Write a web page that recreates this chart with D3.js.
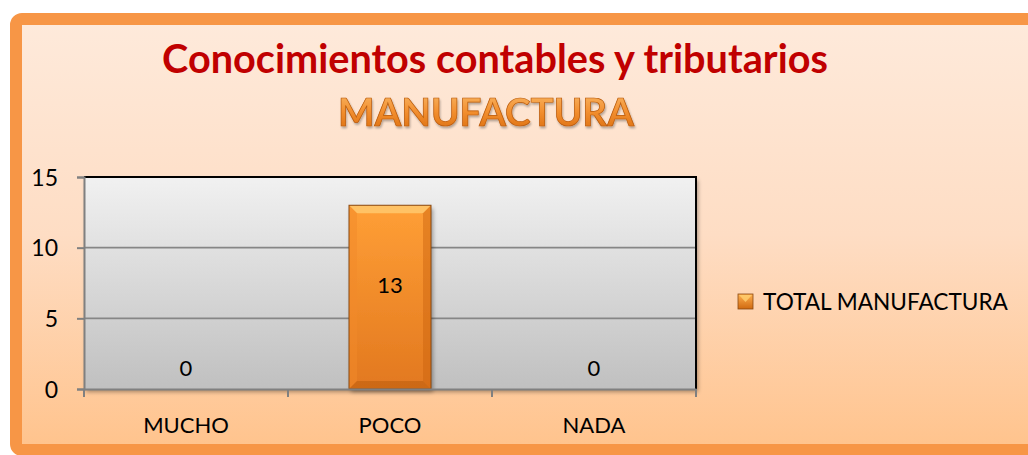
<!DOCTYPE html>
<html>
<head>
<meta charset="utf-8">
<script src="https://cdn.jsdelivr.net/npm/d3@7/dist/d3.min.js"></script>
<style>
html,body{margin:0;padding:0;background:#fff;}
svg{display:block;}
text{font-family:Lato,"Open Sans",sans-serif;}
</style>
</head>
<body>
<svg id="chart" width="1028" height="455"></svg>
<script>
const categories = ["MUCHO", "POCO", "NADA"];
const seriesName = "TOTAL MANUFACTURA";
const values = [0, 13, 0];
const yTicks = [0, 5, 10, 15];
const titleLine1 = "Conocimientos contables y tributarios";
const titleLine2 = "MANUFACTURA";

const svg = d3.select("#chart");
const defs = svg.append("defs");

function lin(id, stops, x2, y2) {
  const g = defs.append("linearGradient").attr("id", id)
    .attr("x1", 0).attr("y1", 0).attr("x2", x2).attr("y2", y2);
  stops.forEach(s => g.append("stop").attr("offset", s[0]).attr("stop-color", s[1]));
}
lin("bgGrad", [[0, "#FEEADB"], [0.5, "#FEDDC4"], [1, "#FFC38C"]], 0, 1);
lin("plotGrad", [[0, "#F1F1F1"], [1, "#C0C0C0"]], 0, 1);
lin("barGrad", [[0, "#FF9F36"], [1, "#E2781F"]], 0, 1);
lin("titleGrad", [[0, "#F9BE70"], [0.5, "#F39030"], [1, "#D96A0C"]], 0, 1);
lin("legGrad", [[0, "#FFB050"], [1, "#D06A10"]], 0, 1);

const f = defs.append("filter").attr("id", "shadow").attr("x", "-10%").attr("y", "-10%").attr("width", "130%").attr("height", "130%");
f.append("feGaussianBlur").attr("in", "SourceAlpha").attr("stdDeviation", 2);
f.append("feOffset").attr("dx", 2).attr("dy", 3).attr("result", "ob");
f.append("feComponentTransfer").append("feFuncA").attr("type", "linear").attr("slope", 0.35);
const fm = f.append("feMerge"); fm.append("feMergeNode"); fm.append("feMergeNode").attr("in", "SourceGraphic");

const tf = defs.append("filter").attr("id", "tshadow").attr("x", "-5%").attr("y", "-20%").attr("width", "110%").attr("height", "150%");
tf.append("feGaussianBlur").attr("in", "SourceAlpha").attr("stdDeviation", 1);
tf.append("feOffset").attr("dx", 1).attr("dy", 2).attr("result", "ob");
tf.append("feComponentTransfer").append("feFuncA").attr("type", "linear").attr("slope", 0.3);
const tm = tf.append("feMerge"); tm.append("feMergeNode"); tm.append("feMergeNode").attr("in", "SourceGraphic");

// frame
svg.append("rect").attr("x", 16).attr("y", 19).attr("width", 1030).attr("height", 431)
  .attr("rx", 6).attr("fill", "url(#bgGrad)").attr("stroke", "#F79646").attr("stroke-width", 12);

// title
function fit(sel, w) {
  const len = sel.node().getComputedTextLength();
  const fs = parseFloat(sel.attr("font-size"));
  sel.attr("font-size", fs * w / len);
}
const t1 = svg.append("text").attr("x", 495).attr("y", 73).attr("text-anchor", "middle")
  .attr("font-size", 34).attr("font-weight", "bold").attr("fill", "#C00000").text(titleLine1);
fit(t1, 666);
const t2 = svg.append("text").attr("x", 486).attr("y", 126).attr("text-anchor", "middle")
  .attr("font-size", 34).attr("font-weight", "bold").attr("fill", "url(#titleGrad)")
  .attr("stroke", "#B85808").attr("stroke-width", 0.7).attr("filter", "url(#tshadow)").text(titleLine2);
fit(t2, 296);

// scales
const m = {left: 84, right: 696, top: 177, bottom: 389};
const x = d3.scaleBand().domain(categories).range([m.left, m.right]).paddingInner(0).paddingOuter(0);
const y = d3.scaleLinear().domain([0, 15]).range([m.bottom, m.top]);

const plot = svg.append("g");
plot.append("rect").attr("x", m.left).attr("y", m.top).attr("width", m.right - m.left).attr("height", m.bottom - m.top)
  .attr("fill", "url(#plotGrad)").attr("filter", "url(#shadow)");

// gridlines
plot.selectAll("line.grid").data(yTicks.filter(d => d > 0 && d < 15)).join("line")
  .attr("x1", m.left).attr("x2", m.right).attr("y1", d => y(d)).attr("y2", d => y(d))
  .attr("stroke", "#868686").attr("stroke-width", 1.6);

// top & right border
plot.append("path").attr("d", `M${m.left},${m.top}H${m.right}V${m.bottom}`)
  .attr("fill", "none").attr("stroke", "#000").attr("stroke-width", 2);

// bars
const bw = 82;
const bars = plot.selectAll("g.bar").data(values.map((v, i) => ({c: categories[i], v}))).join("g");
bars.each(function(d) {
  if (d.v <= 0) return;
  const g = d3.select(this);
  const x0 = x(d.c) + x.bandwidth() / 2 - bw / 2, x1 = x0 + bw;
  const y0 = y(d.v), y1 = y(0);
  const b = 8;
  g.append("rect").attr("x", x0).attr("y", y0).attr("width", bw).attr("height", y1 - y0)
    .attr("fill", "url(#barGrad)").attr("filter", "url(#shadow)");
  g.append("path").attr("d", `M${x0},${y0}L${x1},${y0}L${x1 - b},${y0 + b}L${x0 + b},${y0 + b}Z`).attr("fill", "#FFD27A").attr("opacity", 0.7);
  g.append("path").attr("d", `M${x0},${y0}L${x0 + b},${y0 + b}L${x0 + b},${y1 - b}L${x0},${y1}Z`).attr("fill", "#F28A2A").attr("opacity", 0.5);
  g.append("path").attr("d", `M${x1},${y0}L${x1 - b},${y0 + b}L${x1 - b},${y1 - b}L${x1},${y1}Z`).attr("fill", "#C9620E").attr("opacity", 0.45);
  g.append("path").attr("d", `M${x0},${y1}L${x0 + b},${y1 - b}L${x1 - b},${y1 - b}L${x1},${y1}Z`).attr("fill", "#B85A0C").attr("opacity", 0.5);
  g.append("rect").attr("x", x0).attr("y", y0).attr("width", bw).attr("height", y1 - y0)
    .attr("fill", "none").attr("stroke", "#8A4A12").attr("stroke-width", 1);
});

// axes
const yAxis = d3.axisLeft(y).tickValues(yTicks).tickSize(7).tickPadding(8).tickFormat(d3.format("d"));
const ya = svg.append("g").attr("transform", `translate(${m.left},0)`).call(yAxis);
ya.select(".domain").attr("stroke", "#808080").attr("stroke-width", 2);
ya.selectAll(".tick line").attr("stroke", "#808080").attr("stroke-width", 2);
ya.selectAll(".tick text").attr("font-size", 23).attr("fill", "#000").attr("font-family", "Lato, sans-serif").attr("x", -26).attr("dy", "0.36em");

const xAxis = d3.axisBottom(x).tickSize(0).tickPadding(0);
const xa = svg.append("g").attr("transform", `translate(0,${m.bottom})`).call(xAxis);
xa.select(".domain").attr("stroke", "#808080").attr("stroke-width", 2);
xa.selectAll(".tick text").attr("font-size", 22).attr("fill", "#000").attr("font-family", "Lato, sans-serif").attr("y", 36).attr("dy", "0.36em");
const bounds = categories.map(c => x(c)).concat([m.right]);
xa.selectAll("line.bt").data(bounds).join("line").attr("class", "bt")
  .attr("x1", d => d).attr("x2", d => d).attr("y1", 0).attr("y2", 8)
  .attr("stroke", "#808080").attr("stroke-width", 2);

// data labels
svg.selectAll("text.dl").data(values.map((v, i) => ({c: categories[i], v}))).join("text").attr("class", "dl")
  .attr("x", d => x(d.c) + x.bandwidth() / 2)
  .attr("y", d => d.v > 0 ? (y(d.v) + y(0)) / 2 - 12 : y(0) - 21)
  .attr("dy", "0.36em").attr("text-anchor", "middle").attr("font-size", 22).attr("fill", "#000")
  .text(d => d.v);

// legend
const lg = svg.append("g").attr("transform", "translate(738,294)");
lg.append("rect").attr("width", 15).attr("height", 15).attr("fill", "url(#legGrad)").attr("stroke", "#8A4A12").attr("stroke-width", 0.8);
lg.append("path").attr("d", "M1,1L14,1L7.5,8Z").attr("fill", "#FFD070").attr("opacity", 0.8);
const lt = lg.append("text").attr("x", 25).attr("y", 7.5).attr("dy", "0.36em").attr("font-size", 20).attr("fill", "#000").text(seriesName);
fit(lt, 245);
</script>
</body>
</html>
